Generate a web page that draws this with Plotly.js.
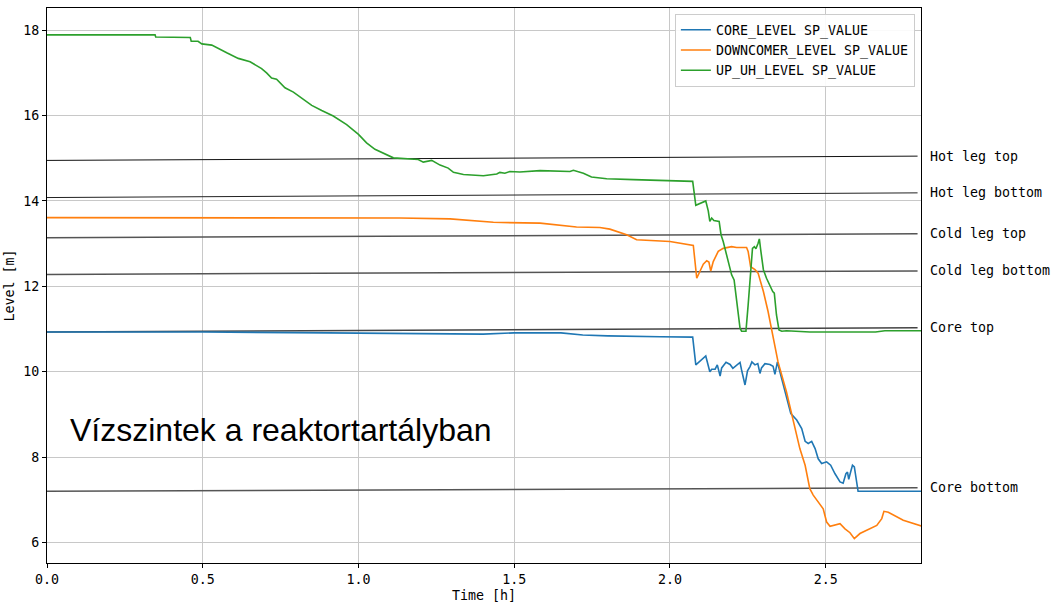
<!DOCTYPE html>
<html>
<head>
<meta charset="utf-8">
<script src="https://cdn.plot.ly/plotly-3.0.1.min.js"></script>
<style>html,body{margin:0;padding:0;background:#fff;}#chart{width:1052px;height:605px;}</style>
</head>
<body>
<div id="chart"></div>
<script>
// ---- data ----
const seriesNames = ["CORE_LEVEL SP_VALUE", "DOWNCOMER_LEVEL SP_VALUE", "UP_UH_LEVEL SP_VALUE"];

const coreT = [0, 0.500, 0.900, 1.100, 1.300, 1.400, 1.500, 1.650, 1.720, 1.800,
  1.968, 2.073, 2.083, 2.094, 2.115, 2.128, 2.134, 2.145, 2.152, 2.161,
  2.166, 2.180, 2.193, 2.202, 2.209, 2.225, 2.230, 2.241, 2.249, 2.257,
  2.263, 2.273, 2.282, 2.289, 2.294, 2.305, 2.321, 2.331, 2.337, 2.345,
  2.353, 2.374, 2.388, 2.407, 2.423, 2.434, 2.444, 2.455, 2.466, 2.476,
  2.487, 2.503, 2.516, 2.530, 2.546, 2.556, 2.565, 2.570, 2.574, 2.580,
  2.586, 2.592, 2.597, 2.604, 2.810];
const coreLevel = [10.93, 10.93, 10.91, 10.90, 10.88, 10.88, 10.91, 10.91, 10.86, 10.84,
  10.82, 10.81, 10.16, 10.23, 10.37, 10.00, 10.06, 10.06, 10.16, 9.90,
  10.09, 10.22, 10.17, 10.08, 10.12, 10.22, 10.04, 9.69, 10.02, 10.12,
  10.23, 10.16, 10.19, 9.96, 10.09, 10.19, 10.17, 10.13, 9.94, 10.23,
  10.00, 9.45, 9.02, 8.87, 8.67, 8.37, 8.32, 8.37, 8.20, 7.96,
  7.85, 7.89, 7.81, 7.61, 7.42, 7.39, 7.61, 7.65, 7.48, 7.65,
  7.81, 7.77, 7.50, 7.20, 7.20];

const downT = [0, 0.800, 1.133, 1.294, 1.347, 1.433, 1.583, 1.647, 1.700, 1.775,
  1.807, 1.861, 1.893, 2.000, 2.075, 2.086, 2.096, 2.107, 2.118, 2.125,
  2.131, 2.139, 2.155, 2.171, 2.198, 2.214, 2.246, 2.251, 2.259, 2.273,
  2.283, 2.300, 2.315, 2.331, 2.347, 2.374, 2.391, 2.417, 2.434, 2.449,
  2.460, 2.481, 2.492, 2.503, 2.514, 2.546, 2.562, 2.578, 2.592, 2.610,
  2.642, 2.664, 2.680, 2.687, 2.701, 2.749, 2.810];
const downLevel = [13.61, 13.60, 13.60, 13.58, 13.55, 13.50, 13.48, 13.44, 13.39, 13.38,
  13.34, 13.21, 13.09, 13.05, 12.96, 12.19, 12.35, 12.52, 12.60, 12.57,
  12.36, 12.58, 12.82, 12.89, 12.93, 12.91, 12.91, 12.82, 12.46, 12.39,
  12.31, 11.88, 11.41, 10.86, 10.23, 9.53, 8.98, 8.20, 7.81, 7.26,
  7.11, 6.91, 6.79, 6.48, 6.38, 6.44, 6.32, 6.23, 6.09, 6.21,
  6.32, 6.40, 6.56, 6.73, 6.71, 6.52, 6.38];

const upT = [0, 0.347, 0.349, 0.460, 0.463, 0.485, 0.497, 0.529, 0.577, 0.614,
  0.652, 0.689, 0.705, 0.721, 0.737, 0.764, 0.791, 0.850, 0.882, 0.919,
  0.962, 1.000, 1.026, 1.053, 1.112, 1.176, 1.192, 1.208, 1.235, 1.262,
  1.288, 1.305, 1.337, 1.401, 1.444, 1.454, 1.470, 1.486, 1.518, 1.583,
  1.679, 1.690, 1.722, 1.748, 1.797, 1.883, 2.032, 2.073, 2.083, 2.096,
  2.115, 2.123, 2.128, 2.134, 2.141, 2.158, 2.164, 2.171, 2.182, 2.198,
  2.206, 2.225, 2.230, 2.244, 2.251, 2.259, 2.265, 2.271, 2.276, 2.283,
  2.287, 2.292, 2.300, 2.310, 2.321, 2.330, 2.335, 2.342, 2.350, 2.359,
  2.374, 2.449, 2.660, 2.690, 2.810];
const upLevel = [17.89, 17.89, 17.84, 17.83, 17.74, 17.74, 17.68, 17.65, 17.47, 17.34,
  17.26, 17.10, 17.00, 16.88, 16.85, 16.65, 16.55, 16.24, 16.12, 15.99,
  15.79, 15.56, 15.36, 15.21, 15.01, 14.99, 14.97, 14.91, 14.95, 14.84,
  14.77, 14.67, 14.62, 14.59, 14.63, 14.67, 14.65, 14.69, 14.68, 14.71,
  14.69, 14.72, 14.65, 14.56, 14.52, 14.50, 14.48, 14.46, 13.90, 13.94,
  14.00, 13.77, 13.52, 13.60, 13.54, 13.52, 13.21, 13.05, 12.74, 12.27,
  12.15, 11.02, 10.95, 10.95, 11.56, 12.35, 12.89, 12.93, 12.88, 13.01,
  13.11, 12.82, 12.39, 12.19, 12.00, 11.88, 11.84, 11.33, 10.98, 10.95,
  10.96, 10.93, 10.93, 10.96, 10.96];

// reference levels (slightly sloped lines, start value at t=0, end value at refEndT)
const refNames = ["Hot leg top", "Hot leg bottom", "Cold leg top", "Cold leg bottom", "Core top", "Core bottom"];
const refStart = [14.95, 14.08, 13.14, 12.28, 10.93, 7.20];
const refEnd = [15.05, 14.19, 13.23, 12.36, 11.03, 7.28];
const refT = [0, 2.795];

const xTicks = [0, 0.5, 1.0, 1.5, 2.0, 2.5];
const yTicks = [6, 8, 10, 12, 14, 16, 18];
const chartLabel = "Vízszintek a reaktortartályban";

// ---- styles ----
const mono = "DejaVu Sans Mono";
const colors = ["#1f77b4", "#ff7f0e", "#2ca02c"];
const refColors = ["#111111", "#222222", "#555555", "#555555", "#444444", "#555555"];
const refWidths = [1, 1, 1.5, 1.5, 1.5, 1.5];

const traces = [];
refNames.forEach((n, i) => {
  traces.push({
    x: refT, y: [refStart[i], refEnd[i]], type: "scatter", mode: "lines",
    line: {color: refColors[i], width: refWidths[i]}, showlegend: false, hoverinfo: "skip"
  });
});
const dataX = [coreT, downT, upT];
const dataY = [coreLevel, downLevel, upLevel];
seriesNames.forEach((n, i) => {
  traces.push({
    x: dataX[i], y: dataY[i], name: n, type: "scatter", mode: "lines",
    line: {color: colors[i], width: 1.6}
  });
});

const annotations = refNames.map((n, i) => ({
  text: n, xref: "paper", x: 1.008, yref: "y", y: refEnd[i],
  xanchor: "left", yanchor: "middle", showarrow: false,
  font: {family: mono, size: 13.3, color: "#000"}
}));
annotations.push({
  text: chartLabel, xref: "paper", x: 0.0235, yref: "paper", y: 0.24,
  xanchor: "left", yanchor: "middle", showarrow: false,
  font: {family: "Liberation Sans, Arial", size: 32, color: "#000"}
});

const axisCommon = {
  showline: true, linecolor: "#000", linewidth: 1, mirror: true,
  ticks: "outside", ticklen: 4, tickcolor: "#000", tickwidth: 1,
  showgrid: true, gridcolor: "#c8c8c8", gridwidth: 1, zeroline: false,
  tickfont: {family: mono, size: 13.3, color: "#000"}
};

const layout = {
  width: 1052, height: 605,
  margin: {l: 47, r: 131, t: 8, b: 42, pad: 0},
  paper_bgcolor: "#fff", plot_bgcolor: "#fff",
  font: {family: mono, size: 13.3, color: "#000"},
  xaxis: Object.assign({}, axisCommon, {
    range: [0, 2.806], tickvals: xTicks, tickformat: ".1f",
    title: {text: "Time [h]", font: {family: mono, size: 13.3}, standoff: 4}
  }),
  yaxis: Object.assign({}, axisCommon, {
    range: [5.52, 18.52], tickvals: yTicks,
    title: {text: "Level [m]", font: {family: mono, size: 13.3}, standoff: 5}
  }),
  legend: {
    x: 0.993, y: 0.99, xanchor: "right", yanchor: "top",
    bgcolor: "rgba(255,255,255,0.9)", bordercolor: "#cccccc", borderwidth: 1,
    font: {family: mono, size: 13.3, color: "#000"}
  },
  annotations: annotations,
  showlegend: true
};

Plotly.newPlot("chart", traces, layout, {displayModeBar: false, staticPlot: true});
</script>
</body>
</html>
